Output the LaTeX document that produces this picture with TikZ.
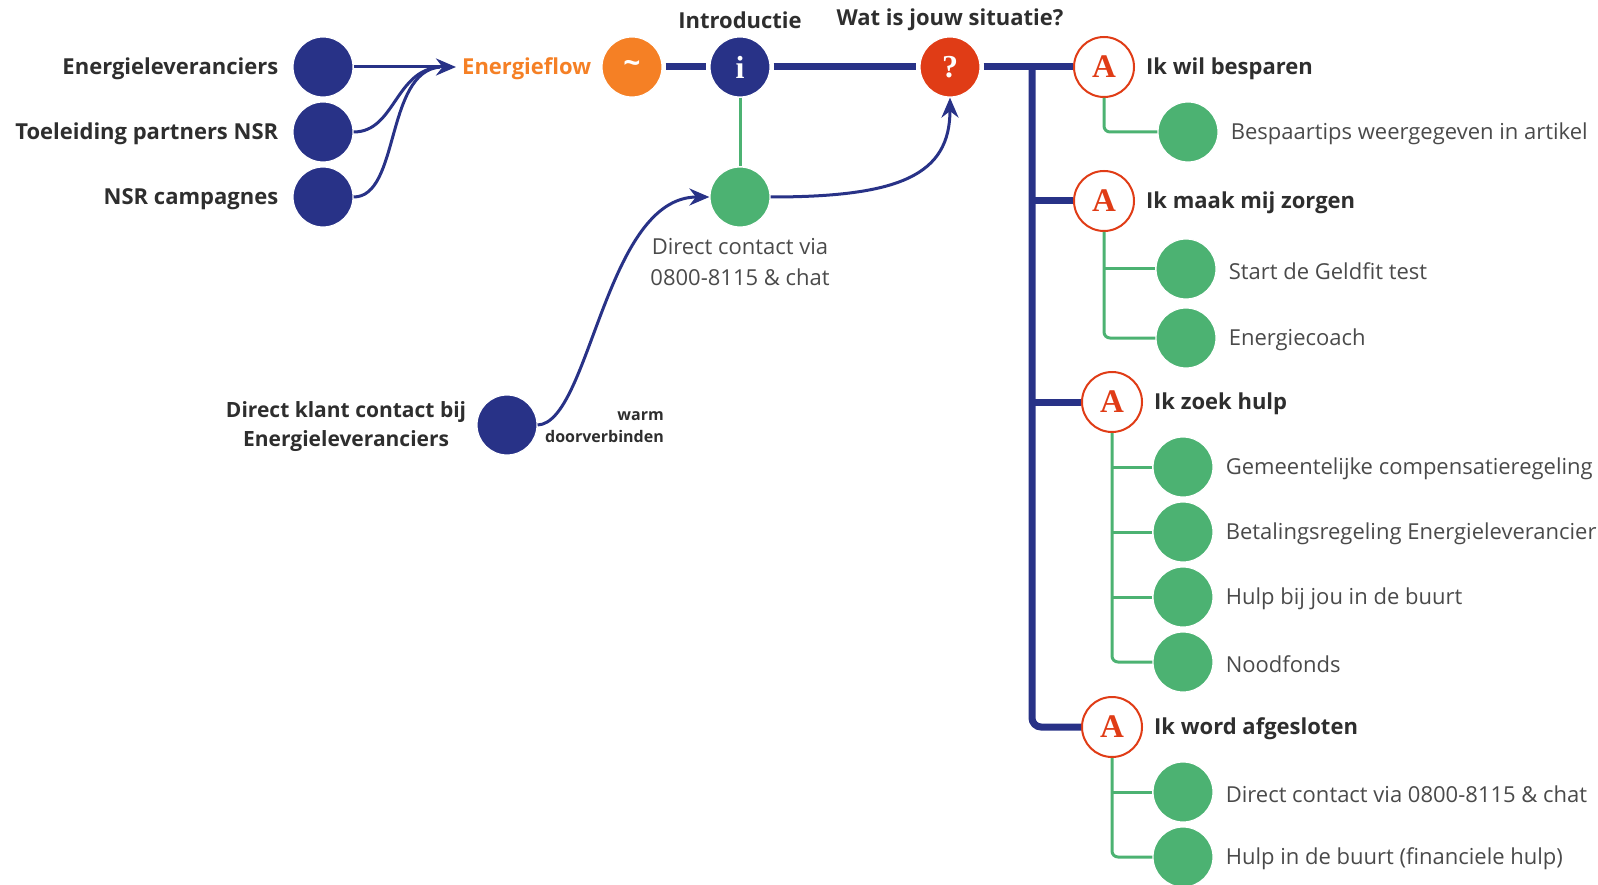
\documentclass[tikz,border=0pt]{standalone}
\usepackage{fontspec}
\setmainfont{Open Sans}
\newfontfamily\glyphfont{Liberation Serif}
\usetikzlibrary{arrows.meta, positioning, calc}
\definecolor{cnavy}{HTML}{283287}
\definecolor{cgreen}{HTML}{4CB272}
\definecolor{corange}{HTML}{F58025}
\definecolor{cred}{HTML}{E03C16}
\definecolor{ctext}{HTML}{2E2E2E}
\definecolor{cgrey}{HTML}{4A4A4A}
\tikzset{
  every picture/.style={x=1pt, y=-1pt},
  dot/.style={circle, fill=#1, draw=white, line width=1.2pt, minimum size=60pt, inner sep=0pt,
    text=white, font=\glyphfont\bfseries\fontsize{32}{32}\selectfont},
  dot/.default=cnavy,
  answer/.style={circle, fill=white, draw=cred, line width=2pt, minimum size=60pt, inner sep=0pt,
    text=cred, font=\glyphfont\bfseries\fontsize{33}{33}\selectfont},
  lbl/.style={font=\bfseries\fontsize{22}{29}\selectfont, text=ctext, inner sep=0pt, yshift=-2pt},
  item/.style={font=\fontsize{22}{31}\selectfont, text=cgrey, inner sep=0pt, yshift=-2pt},
  tiny/.style={font=\bfseries\fontsize{16}{22}\selectfont, text=ctext, inner sep=0pt},
  flow/.style={draw=cnavy, line width=3pt},
  arrow/.style={flow, -{Stealth[length=20pt, width=17pt]}},
  trunk/.style={draw=cnavy, line width=7pt},
  branch/.style={draw=cgreen, line width=3pt, rounded corners=6pt},
}
\begin{document}
\begin{tikzpicture}
  \useasboundingbox (0,0) rectangle (1598,885);
  % sources
  \node[dot] (s1) at (323,67) {};
  \node[dot] (s2) at (323,132) {};
  \node[dot] (s3) at (323,197) {};
  \node[lbl, left=14pt of s1] (t1) {Energieleveranciers};
  \node[lbl, left=14pt of s2] (t2) {Toeleiding partners NSR};
  \node[lbl, left=14pt of s3] (t3) {NSR campagnes};
  \node[lbl, text=corange, anchor=west] (flow) at (462,67) {Energieflow};
  \coordinate (merge) at (440,67);
  \draw[arrow] (s1.east) -- ([xshift=-6pt]flow.west |- s1);
  \draw[flow] (s2.east) .. controls (395,132) and (395,70) .. (merge);
  \draw[flow] (s3.east) .. controls (400,197) and (385,72) .. (merge);
  % main line
  \node[dot=corange, font=\bfseries\fontsize{30}{30}\selectfont] (o) at (632,67) {\char"007E};
  \node[dot] (i) at (740,67) {i};
  \node[dot=cred] (q) at (950,67) {?};
  \node[dot=cgreen] (d) at (740,197) {};
  \node[lbl] (intro) at (740,18) {Introductie};
  \node[lbl] (sit) at (950,18) {Wat is jouw situatie?};
  \node[item, align=center] (dtxt) at (740,260) {Direct contact via\\0800-8115 \& chat};
  \draw[trunk] ([xshift=3pt]o.east) -- ([xshift=-3pt]i.west);
  \draw[trunk] ([xshift=3pt]i.east) -- ([xshift=-3pt]q.west);
  \draw[branch] (i) -- (d);
  \draw[arrow] (d.east) .. controls (900,197) and (950,175) .. (q.south);
  % direct klant contact
  \node[dot] (b) at (507,425) {};
  \node[lbl, font=\bfseries\fontsize{21}{29}\selectfont, align=center, left=10pt of b] (btxt) {Direct klant contact bij\\Energieleveranciers};
  \node[tiny, align=right, anchor=east] (warm) at (664,427) {warm\\doorverbinden};
  \draw[arrow] (b.east) .. controls (590,423) and (605,197) .. (d.west);
  % situaties
  \node[answer] (a1) at (1104,67) {A};
  \node[answer] (a2) at (1104,201) {A};
  \node[answer] (a3) at (1112,402) {A};
  \node[answer] (a4) at (1112,727) {A};
  \node[lbl, right=11pt of a1] {Ik wil besparen};
  \node[lbl, right=11pt of a2] {Ik maak mij zorgen};
  \node[lbl, right=11pt of a3] {Ik zoek hulp};
  \node[lbl, right=11pt of a4] {Ik word afgesloten};
  \coordinate (bar) at (1032,67);
  \draw[trunk] ([xshift=3pt]q.east) -- (a1.west);
  \draw[trunk, rounded corners=9pt] (bar) -- (bar |- a4) -- (a4.west);
  \draw[trunk] (bar |- a2) -- (a2.west);
  \draw[trunk] (bar |- a3) -- (a3.west);
  % opties
  \node[dot=cgreen] (c11) at (1188,132) {};
  \node[dot=cgreen] (c21) at (1186,269) {};
  \node[dot=cgreen] (c22) at (1186,338) {};
  \node[dot=cgreen] (c31) at (1183,467) {};
  \node[dot=cgreen] (c32) at (1183,532) {};
  \node[dot=cgreen] (c33) at (1183,597) {};
  \node[dot=cgreen] (c34) at (1183,662) {};
  \node[dot=cgreen] (c41) at (1183,792) {};
  \node[dot=cgreen] (c42) at (1183,857) {};
  \node[item, right=12pt of c11] {Bespaartips weergegeven in artikel};
  \node[item, right=12pt of c21] {Start de Geldfit test};
  \node[item, right=12pt of c22] {Energiecoach};
  \node[item, right=12pt of c31] {Gemeentelijke compensatieregeling};
  \node[item, right=12pt of c32] {Betalingsregeling Energieleverancier};
  \node[item, right=12pt of c33] {Hulp bij jou in de buurt};
  \node[item, right=12pt of c34] {Noodfonds};
  \node[item, right=12pt of c41] {Direct contact via 0800-8115 \& chat};
  \node[item, right=12pt of c42] {Hulp in de buurt (financiele hulp)};
  \draw[branch] (a1.south) |- (c11.west);
  \draw[branch] (a2.south) |- (c22.west);
  \draw[branch] (a2 |- c21) -- (c21.west);
  \draw[branch] (a3.south) |- (c34.west);
  \foreach \c in {c31,c32,c33} \draw[branch] (a3 |- \c) -- (\c.west);
  \draw[branch] (a4.south) |- (c42.west);
  \draw[branch] (a4 |- c41) -- (c41.west);
\end{tikzpicture}
\end{document}
